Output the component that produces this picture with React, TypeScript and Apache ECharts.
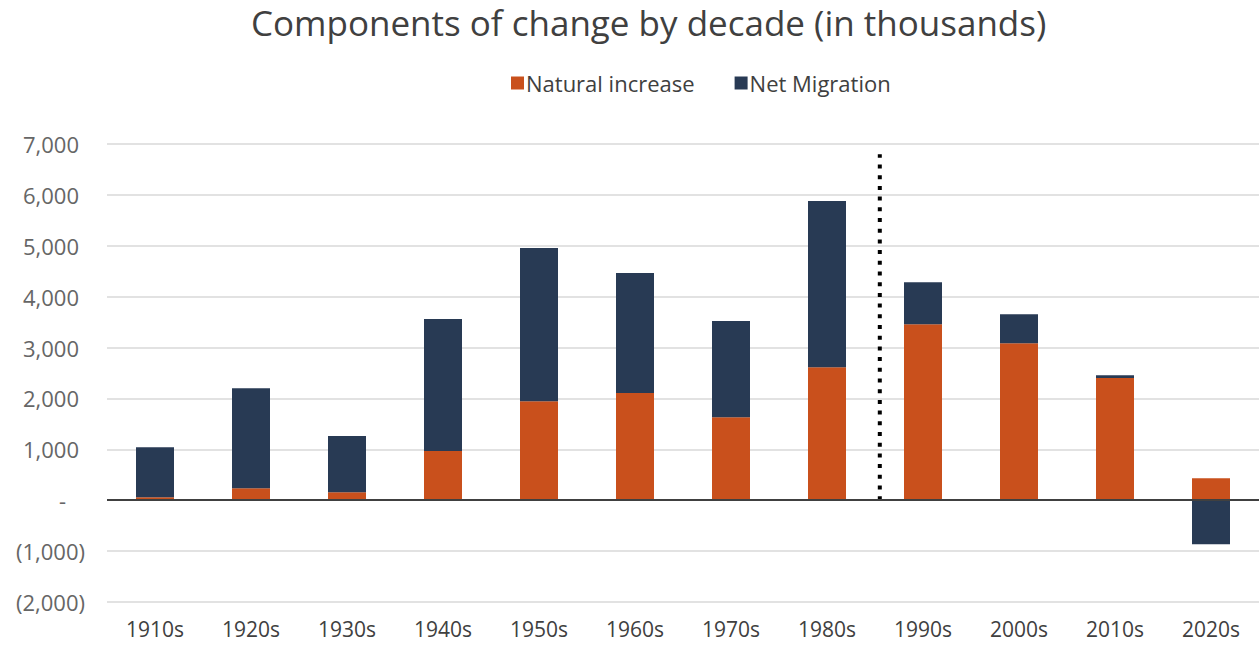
import React, { useEffect, useRef } from "react";
import * as echarts from "echarts";

const categories = ["1910s", "1920s", "1930s", "1940s", "1950s", "1960s", "1970s", "1980s", "1990s", "2000s", "2010s", "2020s"];
const naturalIncrease = [60, 235, 155, 965, 1945, 2105, 1630, 2615, 3460, 3085, 2400, 430];
const netMigration = [980, 1965, 1105, 2595, 3010, 2360, 1890, 3265, 825, 570, 55, -865];
const dividerPosition = 7.55;
const dividerTop = 6800;
const FONT = "'Open Sans', sans-serif";

export default function App() {
  const ref = useRef<HTMLDivElement>(null);
  useEffect(() => {
    if (!ref.current) return;
    const chart = echarts.init(ref.current, null, { renderer: "svg" });
    const fmt = (v: number) => {
      if (v === 0) return "{z|-}";
      const s = Math.abs(v).toLocaleString("en-US");
      return v < 0 ? `{n|(${s})}` : `{p|${s}}`;
    };
    chart.setOption({
      animation: false,
      textStyle: { fontFamily: FONT },
      title: {
        text: "Components of change by decade (in thousands)",
        left: 246,
        top: 0,
        textStyle: { fontFamily: FONT, fontSize: 35, fontWeight: "normal", color: "#404040" },
      },
      legend: {
        top: 67,
        left: 506,
        itemWidth: 13,
        itemHeight: 13,
        itemGap: 40,
        icon: "rect",
        textStyle: { fontFamily: FONT, fontSize: 22, color: "#404040", padding: [0, 0, 0, -3] },
        data: ["Natural increase", "Net Migration"],
      },
      grid: { left: 107, right: 0, top: 144, bottom: 44, containLabel: false },
      xAxis: [
        {
          type: "category",
          data: categories,
          axisTick: { show: false },
          axisLine: { show: false },
          axisLabel: { fontFamily: FONT, fontSize: 21, color: "#404040", margin: 16 },
        },
        { type: "value", min: -0.5, max: 11.5, show: false },
      ],
      yAxis: {
        type: "value",
        min: -2000,
        max: 7000,
        interval: 1000,
        axisLine: { show: false },
        axisTick: { show: false },
        splitLine: { lineStyle: { color: "#d9d9d9", width: 1.5 } },
        axisLabel: {
          margin: 22,
          formatter: fmt,
          rich: {
            p: { fontFamily: FONT, fontSize: 22, color: "#666666", padding: [0, 6, 0, 0] },
            n: { fontFamily: FONT, fontSize: 22, color: "#666666" },
            z: { fontFamily: FONT, fontSize: 22, color: "#666666", padding: [0, 19, 0, 0] },
          },
        },
      },
      series: [
        {
          name: "Natural increase",
          type: "bar",
          stack: "total",
          barWidth: 38,
          data: naturalIncrease,
          itemStyle: { color: "#C9501C" },
          markLine: {
            silent: true,
            symbol: "none",
            label: { show: false },
            lineStyle: { color: "#404040", width: 2, type: "solid" },
            data: [{ yAxis: 0 }],
          },
        },
        {
          name: "Net Migration",
          type: "bar",
          stack: "total",
          barWidth: 38,
          data: netMigration,
          itemStyle: { color: "#283A54" },
        },
        {
          name: "divider",
          type: "line",
          xAxisIndex: 1,
          data: [[dividerPosition, 0], [dividerPosition, dividerTop]],
          symbol: "none",
          silent: true,
          lineStyle: { color: "#000000", width: 4, type: [4, 6.7], cap: "butt" },
        },
      ],
    });
    return () => chart.dispose();
  }, []);
  return <div ref={ref} style={{ position: "absolute", left: 0, top: 0, width: 1259, height: 646 }} />;
}
